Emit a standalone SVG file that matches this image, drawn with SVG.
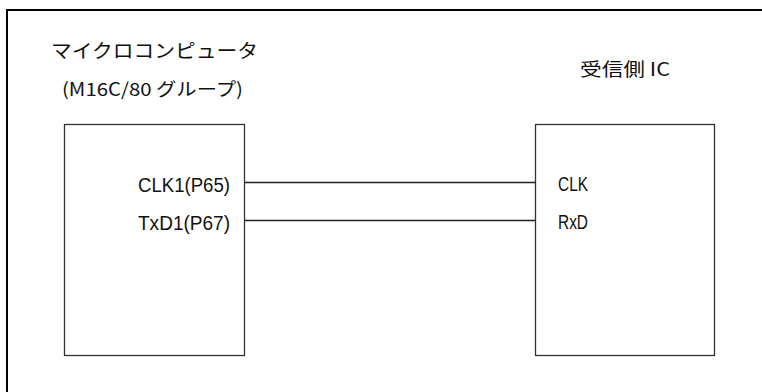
<svg xmlns="http://www.w3.org/2000/svg" width="762" height="392" viewBox="0 0 762 392">
<style>
.frame{stroke:#000;stroke-width:2;fill:none}
.box{stroke:#333;stroke-width:1.3;fill:#fff}
.wire{stroke:#222;stroke-width:1.4;fill:none}
.t{font-family:"Liberation Sans","Noto Sans CJK JP",sans-serif;fill:#111}
.jp{font-family:"Noto Sans CJK JP","Liberation Sans",sans-serif;fill:#111}
</style>
<rect width="762" height="392" fill="#fff"/>
<g id="frame">
<line class="frame" x1="6" y1="10" x2="762" y2="10"/>
<line class="frame" x1="7" y1="9" x2="7" y2="392"/>
</g>
<g id="mcu">
<rect class="box" x="64.5" y="124.5" width="180" height="231"/>
<text class="jp" x="51" y="58" font-size="19" textLength="207" lengthAdjust="spacingAndGlyphs">マイクロコンピュータ</text>
<text class="jp" x="62" y="96" font-size="18" textLength="181" lengthAdjust="spacingAndGlyphs">(M16C/80 グループ)</text>
<text class="t" x="138" y="192" font-size="19.5" textLength="92" lengthAdjust="spacingAndGlyphs">CLK1(P65)</text>
<text class="t" x="138" y="230" font-size="19.5" textLength="92" lengthAdjust="spacingAndGlyphs">TxD1(P67)</text>
</g>
<g id="receiver">
<rect class="box" x="535.5" y="124.5" width="179" height="231"/>
<text class="jp" x="580" y="76" font-size="18" textLength="90" lengthAdjust="spacingAndGlyphs">受信側 IC</text>
<text class="t" x="558" y="191" font-size="19.5" textLength="30" lengthAdjust="spacingAndGlyphs">CLK</text>
<text class="t" x="558" y="229" font-size="19.5" textLength="30" lengthAdjust="spacingAndGlyphs">RxD</text>
</g>
<g id="connectors">
<line class="wire" x1="244.5" y1="182.5" x2="535.5" y2="182.5"/>
<line class="wire" x1="244.5" y1="220.5" x2="535.5" y2="220.5"/>
</g>
</svg>
